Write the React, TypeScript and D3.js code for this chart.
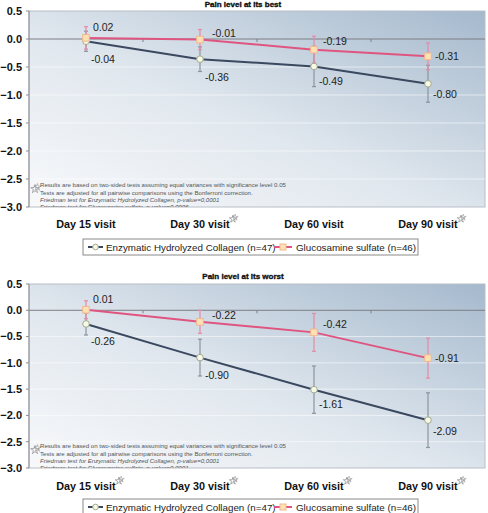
import React from "react";
import * as d3 from "d3";

const categories = ["Day 15 visit", "Day 30 visit", "Day 60 visit", "Day 90 visit"];
const yTicks = [0.5, 0, -0.5, -1.0, -1.5, -2.0, -2.5, -3.0];
const seriesNames = ["Enzymatic Hydrolyzed Collagen (n=47)", "Glucosamine sulfate (n=46)"];

const bestCollagen = [-0.04, -0.36, -0.49, -0.8];
const bestCollagenErr = [0.18, 0.22, 0.36, 0.33];
const bestCollagenLabels = ["-0.04", "-0.36", "-0.49", "-0.80"];
const bestGlucosamine = [0.02, -0.01, -0.19, -0.31];
const bestGlucosamineErr = [0.2, 0.18, 0.24, 0.24];
const bestGlucosamineLabels = ["0.02", "-0.01", "-0.19", "-0.31"];
const bestStarred = [false, true, false, true];

const worstCollagen = [-0.26, -0.9, -1.51, -2.09];
const worstCollagenErr = [0.21, 0.35, 0.45, 0.52];
const worstCollagenLabels = ["-0.26", "-0.90", "-1.61", "-2.09"];
const worstGlucosamine = [0.01, -0.22, -0.42, -0.91];
const worstGlucosamineErr = [0.17, 0.22, 0.36, 0.38];
const worstGlucosamineLabels = ["0.01", "-0.22", "-0.42", "-0.91"];
const worstStarred = [true, true, true, true];

const footnoteLines = [
  "Results are based on two-sided tests assuming equal variances with significance level 0.05",
  "Tests are adjusted for all pairwise comparisons using the Bonferroni correction.",
  "Friedman test for Enzymatic Hydrolyzed Collagen, p-value=0,0001",
];
const bestFoot4 = "Friedman test for Glucosamine sulfate, p-value=0,0006";
const worstFoot4 = "Friedman test for Glucosamine sulfate, p-value=0,0001";

// layout (label nudges, not data)
const colLabelDy = [18, 18, 15, 11];
const gluLabelDy = [-10, -6, -8, 0];
const gluLabelDx = [7, 12, 9, 7];

const C_COL = "#3a4860";
const C_GLU = "#df5580";
const FONT = "'Liberation Sans', Arial, sans-serif";

type ChartProps = {
  id: string;
  top: number;
  bottom: number;
  title: string;
  titleY: number;
  xLabelY: number;
  legendY: number;
  collagen: number[];
  cErr: number[];
  cLabels: string[];
  gluc: number[];
  gErr: number[];
  gLabels: string[];
  starred: boolean[];
  foot4: string;
};

const starPath = (area: number) => d3.symbol(d3.symbolStar, area)() as string;

function Star({ x, y, size }: { x: number; y: number; size: number }) {
  return (
    <g fill="none" strokeWidth={0.6}>
      <path d={starPath(size * size * 0.35)} transform={`translate(${x},${y})`} stroke="#777" />
      <path d={starPath(size * size * 0.25)} transform={`translate(${x + size * 0.3},${y - size * 0.22})`} stroke="#999" />
    </g>
  );
}

function Chart(p: ChartProps) {
  const left = 29;
  const right = 485;
  const x = d3.scaleBand<string>().domain(categories).range([left, right]).padding(0);
  const cx = (c: string) => (x(c) as number) + x.bandwidth() / 2;
  const y = d3.scaleLinear().domain([-3, 0.5]).range([p.bottom, p.top]);
  const line = d3
    .line<number>()
    .x((_, i) => cx(categories[i]))
    .y((d) => y(d));

  const errBar = (vals: number[], errs: number[], color: string) =>
    vals.map((v, i) => {
      const xx = cx(categories[i]);
      return (
        <g key={i} stroke={color} strokeWidth={1.2}>
          <line x1={xx} x2={xx} y1={y(v + errs[i])} y2={y(v - errs[i])} />
          <line x1={xx - 2} x2={xx + 2} y1={y(v + errs[i])} y2={y(v + errs[i])} />
          <line x1={xx - 2} x2={xx + 2} y1={y(v - errs[i])} y2={y(v - errs[i])} />
        </g>
      );
    });

  return (
    <g>
      <defs>
        <linearGradient id={`bg-${p.id}`} x1="0" y1="1" x2="1" y2="0">
          <stop offset="0" stopColor="#f8f9fb" />
          <stop offset="0.45" stopColor="#e0e7ee" />
          <stop offset="1" stopColor="#a5b9cd" />
        </linearGradient>
        <clipPath id={`clip-${p.id}`}>
          <rect x={left} y={p.top} width={right - left} height={p.bottom - p.top} />
        </clipPath>
      </defs>
      <rect x={left} y={p.top} width={right - left} height={p.bottom - p.top} fill={`url(#bg-${p.id})`} stroke="#b8bec6" />
      {yTicks
        .filter((t) => t !== 0 && t !== 0.5 && t !== -3)
        .map((t) => (
          <line key={t} x1={left} x2={right} y1={y(t)} y2={y(t)} stroke="#ffffff" strokeOpacity={0.55} />
        ))}
      {/* zero axis */}
      <line x1={left} x2={right} y1={y(0)} y2={y(0)} stroke="#7c7f84" strokeWidth={1} />
      {categories.slice(1).map((c) => (
        <line key={c} x1={x(c)} x2={x(c)} y1={y(0)} y2={y(0) + 3} stroke="#7c7f84" />
      ))}
      {/* left axis */}
      <line x1={left} x2={left} y1={p.top} y2={p.bottom} stroke="#8a8d92" />
      {yTicks.map((t) => (
        <g key={t}>
          <line x1={left - 3} x2={left} y1={y(t)} y2={y(t)} stroke="#8a8d92" />
          <text x={22} y={y(t) + 3.8} textAnchor="end" fontSize={11} fontWeight="bold" fontFamily={FONT} fill="#111">
            {d3.format(".1f")(t)}
          </text>
        </g>
      ))}
      {/* footnote */}
      <g clipPath={`url(#clip-${p.id})`} fontFamily={FONT} fontSize={6.1} fill="#555">
        <Star x={35} y={p.bottom - 18} size={8} />
        <text x={40} y={p.bottom - 20}>{footnoteLines[0]}</text>
        <text x={40} y={p.bottom - 12.5}>{footnoteLines[1]}</text>
        <text x={40} y={p.bottom - 5.5} fontStyle="italic">{footnoteLines[2]}</text>
        <text x={40} y={p.bottom + 2.2} fontStyle="italic">{p.foot4}</text>
      </g>
      {/* error bars */}
      {errBar(p.collagen, p.cErr, "#8d949e")}
      {errBar(p.gluc, p.gErr, "#e68aa6")}
      {/* lines */}
      <path d={line(p.collagen) as string} fill="none" stroke={C_COL} strokeWidth={2} />
      <path d={line(p.gluc) as string} fill="none" stroke={C_GLU} strokeWidth={2} />
      {/* markers */}
      {p.collagen.map((v, i) => (
        <circle key={i} cx={cx(categories[i])} cy={y(v)} r={3.3} fill="#f6f9e6" stroke="#a3a98f" strokeWidth={1} />
      ))}
      {p.gluc.map((v, i) => (
        <rect key={i} x={cx(categories[i]) - 3.3} y={y(v) - 3.3} width={6.6} height={6.6} fill="#fde0b4" stroke="#f1b98f" strokeWidth={1} />
      ))}
      {/* data labels */}
      <g fontFamily={FONT} fontSize={10.5} fill="#222">
        {p.collagen.map((v, i) => (
          <text key={i} x={cx(categories[i]) + 5} y={y(v) + colLabelDy[i] + 3.5}>{p.cLabels[i]}</text>
        ))}
        {p.gluc.map((v, i) => (
          <text key={i} x={cx(categories[i]) + gluLabelDx[i]} y={y(v) + gluLabelDy[i] + 3.5}>{p.gLabels[i]}</text>
        ))}
      </g>
      {/* x labels */}
      {categories.map((c, i) => (
        <g key={c}>
          <text x={cx(c)} y={p.xLabelY} textAnchor="middle" fontSize={10.8} fontWeight="bold" fontFamily={FONT} fill="#111">
            {c}
          </text>
          {p.starred[i] && <Star x={cx(c) + 33} y={p.xLabelY - 9} size={7} />}
        </g>
      ))}
      {/* title */}
      <text x={243} y={p.titleY} textAnchor="middle" fontSize={8} fontWeight="bold" fontFamily={FONT} fill="#111" stroke="#111" strokeWidth={0.35}>
        {p.title}
      </text>
      {/* legend */}
      <g fontFamily={FONT} fontSize={9.8} fill="#222">
        <rect x={83} y={p.legendY} width={335} height={16} fill="#fff" stroke="#8a8a8a" />
        <line x1={88} x2={103} y1={p.legendY + 8} y2={p.legendY + 8} stroke={C_COL} strokeWidth={2} />
        <circle cx={95.5} cy={p.legendY + 8} r={2.8} fill="#f6f9e6" stroke="#a3a98f" />
        <text x={106} y={p.legendY + 11.5}>{seriesNames[0]}</text>
        <line x1={274} x2={292} y1={p.legendY + 8} y2={p.legendY + 8} stroke={C_GLU} strokeWidth={2} />
        <rect x={280} y={p.legendY + 5} width={6} height={6} fill="#fde0b4" stroke="#f1b98f" />
        <text x={296} y={p.legendY + 11.5}>{seriesNames[1]}</text>
      </g>
    </g>
  );
}

export default function App() {
  return (
    <svg width={488} height={513} style={{ position: "fixed", left: 0, top: 0, background: "#fff" }}>
      <rect width={488} height={513} fill="#fff" />
      <Chart
        id="best"
        top={11}
        bottom={207}
        title="Pain level at its best"
        titleY={7}
        xLabelY={228}
        legendY={239}
        collagen={bestCollagen}
        cErr={bestCollagenErr}
        cLabels={bestCollagenLabels}
        gluc={bestGlucosamine}
        gErr={bestGlucosamineErr}
        gLabels={bestGlucosamineLabels}
        starred={bestStarred}
        foot4={bestFoot4}
      />
      <Chart
        id="worst"
        top={284}
        bottom={468}
        title="Pain level at its worst"
        titleY={279}
        xLabelY={490}
        legendY={499}
        collagen={worstCollagen}
        cErr={worstCollagenErr}
        cLabels={worstCollagenLabels}
        gluc={worstGlucosamine}
        gErr={worstGlucosamineErr}
        gLabels={worstGlucosamineLabels}
        starred={worstStarred}
        foot4={worstFoot4}
      />
    </svg>
  );
}
